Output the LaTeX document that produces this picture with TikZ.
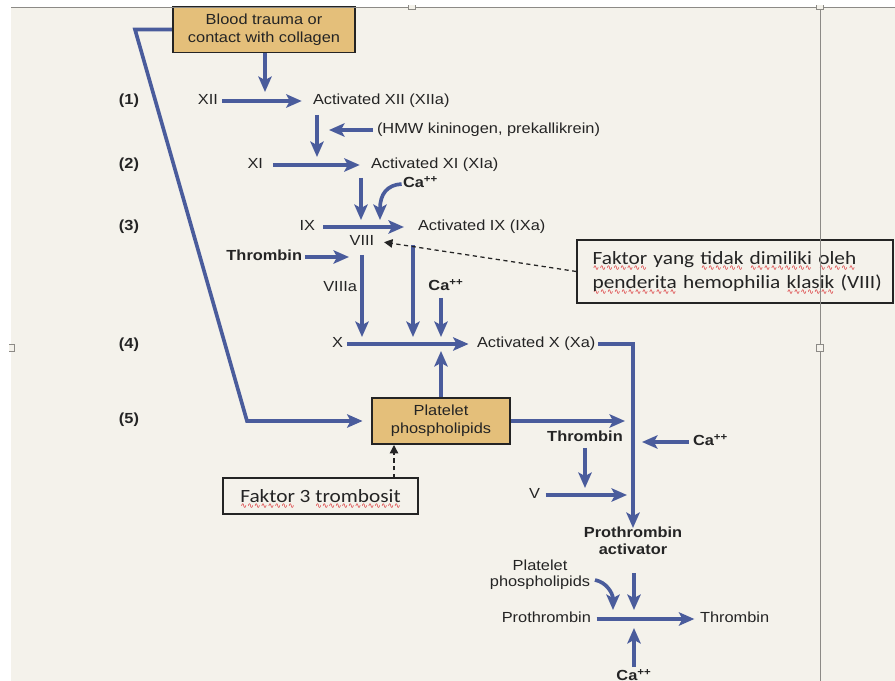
\documentclass[tikz,border=0pt]{standalone}
\usepackage{fontspec}
\setmainfont[FakeStretch=1.12]{Liberation Sans}
\newfontfamily\notefont[FakeStretch=1.14]{Carlito}
\newfontfamily\wavefont{DejaVu Sans}
\usetikzlibrary{arrows.meta,calc}

\definecolor{paper}{HTML}{F4F2EB}
\definecolor{flowblue}{HTML}{4A5C9C}
\definecolor{boxtan}{HTML}{E4BF7A}
\definecolor{ink}{HTML}{242424}
\definecolor{framegray}{HTML}{8C8A86}
\definecolor{wavered}{HTML}{D8262A}

% spell-check style red wavy underline, built from repeated sine-wave glyphs
\newcommand{\rwave}[1]{\setbox0\hbox{#1}%
  \rlap{\raisebox{-4.3pt}[0pt][0pt]{\color{wavered}\hbox to \wd0{%
    \xleaders\hbox{\wavefont\fontsize{5.5}{5.5}\selectfont\symbol{"223F}}\hfill}}}%
  \box0\relax}

\tikzset{
  flow/.style={draw=flowblue, line width=2.6pt,
    -{Stealth[length=11pt, width=9.5pt, inset=2.5pt]}},
  dasharrow/.style={draw=ink, line width=0.9pt, dash pattern=on 3pt off 2.5pt,
    -{Triangle[length=6pt, width=6pt]}},
  lbl/.style={inner sep=0pt, outer sep=0pt, anchor=mid, text=ink,
    font=\fontsize{10.4}{12.5}\selectfont},
  blbl/.style={lbl, font=\fontsize{10.4}{12.2}\selectfont\bfseries},
  tanbox/.style={draw=ink, line width=1.4pt, fill=boxtan, align=center,
    text=ink, inner sep=0pt, font=\fontsize{10.4}{12.8}\selectfont},
  notebox/.style={draw=ink, line width=0.9pt, fill=paper, text=ink,
    inner sep=0pt, font=\notefont\fontsize{13.3}{16.4}\selectfont},
  handle/.style={draw=framegray, line width=0.7pt, fill=paper,
    minimum size=5pt, inner sep=0pt},
}

\begin{document}
\begin{tikzpicture}[x=0.025cm, y=-0.025cm]
\useasboundingbox (0,0) rectangle (895,681);

% page and slide area
\fill[white] (0,0) rectangle (895,681);
\fill[paper] (11,7) rectangle (895,681);

% ---------- boxes ----------
\node[tanbox, minimum width=4.55cm, minimum height=1.15cm] (trauma) at (264,29.5)
  {Blood trauma or\\contact with collagen};
\node[tanbox, minimum width=3.45cm, minimum height=1.15cm] (platelet) at (441,421)
  {Platelet\\phospholipids};

% ---------- step numbers ----------
\node[blbl] (s1) at (129,101) {(1)};
\node[blbl] (s2) at (129,165) {(2)};
\node[blbl] (s3) at (129,227) {(3)};
\node[blbl] (s4) at (129,345) {(4)};
\node[blbl] (s5) at (129,420) {(5)};

% ---------- extrinsic bypass to platelet phospholipids ----------
\coordinate (bendA) at (135,29.5);
\coordinate (bendB) at (247,421);
\draw[flow, line join=miter, shorten >=6pt] (trauma.west) -- (bendA) -- (bendB) -- (platelet.west);

% ---------- step 1 ----------
\node[lbl, anchor=mid east] (xii) at (218,101) {XII};
\node[lbl, anchor=mid west] (xiia) at (313,101) {Activated XII (XIIa)};
\draw[flow] ([xshift=3pt]xii.mid east) -- ([xshift=-8pt]xiia.mid west);
\coordinate (j1) at (265,92);
\draw[flow] (trauma.south -| j1) -- (j1);

\coordinate (d1a) at (317,115);
\coordinate (d1b) at (317,157);
\draw[flow] (d1a) -- (d1b);
\node[lbl, anchor=mid west] (hmw) at (377,130) {(HMW kininogen, prekallikrein)};
\coordinate (d1m) at (329,130);
\draw[flow] ([xshift=-3pt]hmw.mid west) -- (d1m);

% ---------- step 2 ----------
\node[lbl, anchor=mid east] (xi) at (263,165) {XI};
\node[lbl, anchor=mid west] (xia) at (371,165) {Activated XI (XIa)};
\draw[flow] ([xshift=7pt]xi.mid east) -- ([xshift=-8pt]xia.mid west);

% ---------- step 3 ----------
\coordinate (d2a) at (361,178);
\coordinate (d2b) at (361,220);
\draw[flow] (d2a) -- (d2b);
\node[blbl, anchor=mid west] (ca1) at (403,184) {Ca\textsuperscript{++}};
\coordinate (c1b) at (380,220);
\draw[flow] ([xshift=-1pt]ca1.mid west) .. controls (387,185) and (380,194) .. (c1b);

\node[lbl, anchor=mid east] (ix) at (315,227) {IX};
\node[lbl, anchor=mid west] (ixa) at (418,227) {Activated IX (IXa)};
\draw[flow] ([xshift=6pt]ix.mid east) -- ([xshift=-10pt]ixa.mid west);

\node[lbl] (viii) at (362,242) {VIII};
\node[blbl, anchor=mid east] (thr1) at (302,257) {Thrombin};
\coordinate (t1b) at (349,257);
\draw[flow] ([xshift=2pt]thr1.mid east) -- (t1b);

\coordinate (v8a) at (362,255);
\coordinate (v8b) at (362,337);
\draw[flow] (v8a) -- (v8b);
\node[lbl, anchor=mid east] (viiia) at (357,288) {VIIIa};

\coordinate (v9a) at (413,245);
\coordinate (v9b) at (413,337);
\draw[flow] (v9a) -- (v9b);

\node[blbl] (ca2) at (446,287) {Ca\textsuperscript{++}};
\coordinate (c2a) at (441,298);
\coordinate (c2b) at (441,337);
\draw[flow] (c2a) -- (c2b);

% ---------- step 4 ----------
\node[lbl, anchor=mid east] (x) at (343,344) {X};
\node[lbl, anchor=mid west] (xa) at (477,344) {Activated X (Xa)};
\draw[flow] ([xshift=3pt]x.mid east) -- ([xshift=-6pt]xa.mid west);
\coordinate (xacorner) at (633,344);
\coordinate (pain) at (633,528);
\draw[flow, line join=miter] ([xshift=2pt]xa.mid east) -- (xacorner) -- (pain);

\coordinate (upc) at (441,351);
\draw[flow] (platelet.north -| upc) -- (upc);

% ---------- step 5 ----------
\coordinate (e5) at (625,421);
\draw[flow] (platelet.east) -- (e5);
\node[blbl] (thr2) at (585,438) {Thrombin};
\coordinate (t2a) at (585,448);
\coordinate (t2b) at (585,488);
\draw[flow] (t2a) -- (t2b);
\node[lbl, anchor=mid east] (v) at (540,495) {V};
\coordinate (v5b) at (627,495);
\draw[flow] ([xshift=4pt]v.mid east) -- (v5b);
\node[blbl, anchor=mid west] (ca3) at (693,442) {Ca\textsuperscript{++}};
\coordinate (c3b) at (642,442);
\draw[flow] ([xshift=-3pt]ca3.mid west) -- (c3b);

% ---------- prothrombin to thrombin ----------
\node[blbl, align=center, font=\fontsize{10.4}{12}\selectfont\bfseries] (pact) at (633,551)
  {Prothrombin\\activator};
\node[lbl, align=center, font=\fontsize{10.4}{11.4}\selectfont] (pp2) at (540,583)
  {Platelet\\phospholipids};
\coordinate (pd1) at (634,573);
\coordinate (pd2) at (634,610);
\draw[flow] (pd1) -- (pd2);
\coordinate (cv2a) at (595,580);
\coordinate (cv2b) at (613,610);
\draw[flow] (cv2a) .. controls (606,582) and (613,593) .. (cv2b);

\node[lbl, anchor=mid east] (proth) at (591,619) {Prothrombin};
\node[lbl, anchor=mid west] (thr3) at (700,619) {Thrombin};
\draw[flow] ([xshift=4pt]proth.mid east) -- ([xshift=-4pt]thr3.mid west);
\node[blbl] (ca4) at (634,677) {Ca\textsuperscript{++}};
\coordinate (c4a) at (634,667);
\coordinate (c4b) at (634,628);
\draw[flow] (c4a) -- (c4b);

% ---------- annotations ----------
\node[notebox, minimum width=7.9cm, minimum height=1.575cm, text width=7.4cm,
      inner xsep=0.25cm, align=left] (note) at (735,271.5)
  {\hspace*{4pt}\rwave{Faktor} yang \rwave{tidak} \rwave{dimiliki} \rwave{oleh}\\
   \hspace*{4pt}\rwave{penderita} hemophilia \rwave{klasik} (VIII)};
\draw[dasharrow, shorten >=7pt] (note.west) -- (viii.east);

\node[notebox, minimum width=4.875cm, minimum height=0.9cm] (f3) at (320.5,496)
  {\rwave{Faktor} 3 \rwave{trombosit}};
\coordinate (f3out) at (394,478);
\draw[dasharrow] (f3out) -- (f3out |- platelet.south);

% ---------- selection frame ----------
\draw[framegray, line width=0.6pt] (11,7) -- (895,7);
\draw[framegray, line width=0.7pt] (820,7) -- (820,681);
\node[handle] (hR) at (820,348) {};
\node[handle] (hT) at (412,6) {};
\node[handle] (hTR) at (820,6) {};
\node[handle] (hL) at (11,348) {};
\fill[white] (0,0) rectangle (895,5);
\fill[white] (0,7) rectangle (9,681);
\end{tikzpicture}
\end{document}
